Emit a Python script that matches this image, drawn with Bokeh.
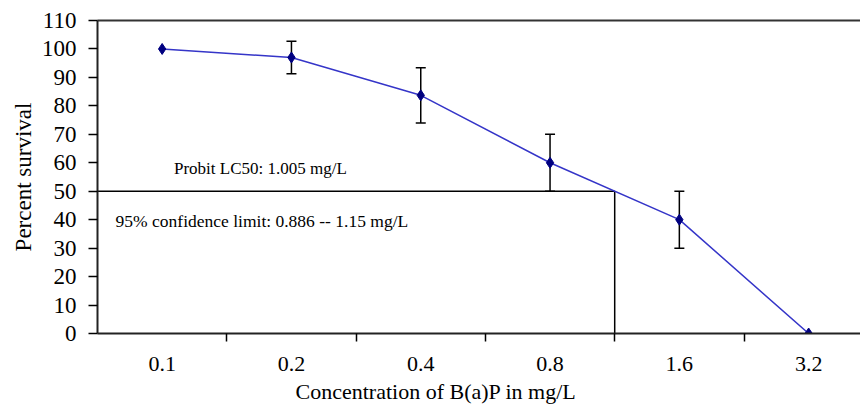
import numpy as np
from bokeh.plotting import figure
from bokeh.models import (ColumnDataSource, Range1d, FixedTicker, LinearAxis,
                          Whisker, TeeHead, Label, Title)
from bokeh.embed import file_html
from bokeh.resources import INLINE

# ---- data ----
concentrations = ["0.1", "0.2", "0.4", "0.8", "1.6", "3.2"]
survival = [100, 97, 83.7, 60, 40, 0]
error = [0, 5.7, 9.7, 10, 10, 0]
lc50_level = 50
y_ticks = [0, 10, 20, 30, 40, 50, 60, 70, 80, 90, 100, 110]
lc50_text = "Probit LC50: 1.005 mg/L"
ci_text = "95% confidence limit: 0.886 -- 1.15 mg/L"
x_title = "Concentration of B(a)P in mg/L"
y_title = "Percent survival"

FONT = "Liberation Serif"

pos = [i + 0.5 for i in range(len(concentrations))]
source = ColumnDataSource(data=dict(x=pos, y=survival))

eb_x = [p_ for p_, e in zip(pos, error) if e > 0]
eb_up = [s + e for s, e in zip(survival, error) if e > 0]
eb_lo = [s - e for s, e in zip(survival, error) if e > 0]
eb_source = ColumnDataSource(data=dict(x=eb_x, upper=eb_up, lower=eb_lo))

# x where the survival line crosses 50 %
lc50_x = float(np.interp(lc50_level, survival[::-1], pos[::-1]))

p = figure(width=860, height=407, output_backend="svg", toolbar_location=None,
           x_range=Range1d(0, 763 / 129.3), y_range=Range1d(0, 110),
           min_border_left=97, min_border_right=0, min_border_top=20,
           min_border_bottom=74)
p.outline_line_color = None
p.grid.grid_line_color = None
p.background_fill_color = "white"
p.border_fill_color = "white"

# x axis: labels at category centres, tick marks between categories
xa = p.xaxis[0]
xa.ticker = FixedTicker(ticks=pos, minor_ticks=[1, 2, 3, 4, 5])
xa.major_label_overrides = {p_: c for p_, c in zip(pos, concentrations)}
xa.major_tick_line_color = None
xa.minor_tick_line_color = "black"
xa.minor_tick_line_width = 1.5
xa.minor_tick_out = 8
xa.minor_tick_in = 0
xa.axis_line_width = 2
xa.axis_line_color = "#222222"
xa.major_label_text_font = FONT
xa.major_label_text_font_size = "22px"
xa.major_label_text_color = "black"
xa.major_label_standoff = 15

ya = p.yaxis[0]
ya.ticker = FixedTicker(ticks=y_ticks)
ya.minor_tick_line_color = None
ya.major_tick_line_color = "black"
ya.major_tick_line_width = 1.5
ya.major_tick_out = 9
ya.major_tick_in = 0
ya.axis_line_width = 2
ya.axis_line_color = "#222222"
ya.major_label_text_font = FONT
ya.major_label_text_font_size = "23px"
ya.major_label_text_color = "black"
ya.major_label_standoff = 12
ya.axis_label = y_title
ya.axis_label_text_font = FONT
ya.axis_label_text_font_size = "23px"
ya.axis_label_text_font_style = "normal"
ya.axis_label_text_color = "black"
ya.axis_label_standoff = 3

# top frame line
top = LinearAxis(ticker=FixedTicker(ticks=[]), major_tick_line_color=None,
                 minor_tick_line_color=None, major_label_text_font_size="0px",
                 axis_line_width=2, axis_line_color="#333333")
p.add_layout(top, "above")

# x-axis title, placed left of the frame centre as in the reference
xt = Title(text=x_title, align="left", offset=198, text_font=FONT,
           text_font_size="22px", text_font_style="normal",
           text_color="black", standoff=7)
p.add_layout(xt, "below")

# LC50 guide lines
p.segment(x0=[0, lc50_x], y0=[lc50_level, lc50_level],
          x1=[lc50_x, lc50_x], y1=[lc50_level, 0],
          line_color="black", line_width=1.5)

# error bars
wh = Whisker(source=eb_source, base="x", upper="upper", lower="lower",
             line_color="black", line_width=1.5,
             upper_head=TeeHead(size=10, line_color="black", line_width=1.5),
             lower_head=TeeHead(size=10, line_color="black", line_width=1.5))
p.add_layout(wh)

# survival line and markers
p.line("x", "y", source=source, line_color="#3535c8", line_width=1.5)
p.scatter("x", "y", source=source, marker="diamond", size=11,
          fill_color="#000080", line_color="#000080")

p.add_layout(Label(x=1.26, y=58, text=lc50_text, text_font=FONT,
                   text_font_size="17px", text_color="black",
                   text_align="center", text_baseline="middle"))
p.add_layout(Label(x=0.14, y=39.7, text=ci_text, text_font=FONT,
                   text_font_size="17.5px", text_color="black",
                   text_align="left", text_baseline="middle"))

open("out.html", "w").write(file_html(p, INLINE))
